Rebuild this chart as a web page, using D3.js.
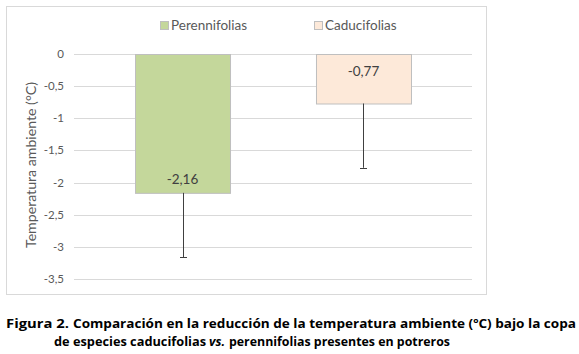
<!DOCTYPE html>
<html>
<head>
<meta charset="utf-8">
<script src="https://cdn.jsdelivr.net/npm/d3@7"></script>
<style>
  body { margin: 0; background: #fff; }
  text { font-family: Lato, "Open Sans", sans-serif; }
  text.caption { font-family: "Open Sans", sans-serif; font-weight: bold; }
</style>
</head>
<body>
<div id="chart"></div>
<script>
// datos
let series = ["Perennifolias", "Caducifolias"];
let values = [-2.16, -0.77];
let errors = [1.0, 1.0];
let labels = ["-2,16", "-0,77"];
let colors = ["#c4d79b", "#fde9d9"];
let yTicks = [0, -0.5, -1, -1.5, -2, -2.5, -3, -3.5];
let yTitle = "Temperatura ambiente (°C)";

let width = 579, height = 354;
let svg = d3.select("#chart").append("svg").attr("width", width).attr("height", height);

// marco del grafico
svg.append("rect").attr("x", 6.5).attr("y", 6.5).attr("width", 480).attr("height", 288)
  .attr("fill", "#fff").attr("stroke", "#d9d9d9").attr("stroke-width", 1);

// escalas
let y = d3.scaleLinear().domain([-3.5, 0]).range([279, 54]);
let x = d3.scaleBand().domain(series).range([74, 472]).paddingInner(0.475).paddingOuter(0.337);

// lineas de division
svg.append("g").selectAll("line").data(yTicks).enter().append("line")
  .attr("x1", 74).attr("x2", 472)
  .attr("y1", d => Math.round(y(d)) + 0.5).attr("y2", d => Math.round(y(d)) + 0.5)
  .attr("stroke", "#d9d9d9").attr("stroke-width", 1);

// etiquetas eje y
let fmt = d => d === 0 ? "0" : String(d).replace(".", ",");
svg.append("g").selectAll("text").data(yTicks).enter().append("text")
  .attr("x", 64).attr("y", d => y(d) + 4)
  .attr("text-anchor", "end").attr("fill", "#595959").attr("font-size", 11.5)
  .text(fmt);

svg.append("text").attr("transform", "translate(36," + 165 + ") rotate(-90)")
  .attr("text-anchor", "middle").attr("fill", "#595959").attr("font-size", 13.5)
  .attr("textLength", 166).attr("lengthAdjust", "spacingAndGlyphs")
  .text(yTitle);

// barras
svg.append("g").selectAll("rect").data(values).enter().append("rect")
  .attr("x", (d, i) => x(series[i]) + 0.5).attr("y", y(0) + 0.5)
  .attr("width", x.bandwidth()).attr("height", d => y(d) - y(0))
  .attr("fill", (d, i) => colors[i]).attr("stroke", "#bfbfbf").attr("stroke-width", 1);

// barras de error (solo negativas)
let eb = svg.append("g").attr("stroke", "#404040").attr("stroke-width", 1);
values.forEach((v, i) => {
  let cx = Math.round(x(series[i]) + x.bandwidth() / 2) + 0.5;
  eb.append("line").attr("x1", cx).attr("x2", cx).attr("y1", y(v)).attr("y2", y(v - errors[i]));
  eb.append("line").attr("x1", cx - 3.5).attr("x2", cx + 3.5)
    .attr("y1", Math.round(y(v - errors[i])) + 0.5).attr("y2", Math.round(y(v - errors[i])) + 0.5);
});

// etiquetas de datos
svg.append("g").selectAll("text").data(values).enter().append("text")
  .attr("x", (d, i) => x(series[i]) + x.bandwidth() / 2)
  .attr("y", d => (y(d) - y(0) > 100 ? y(d) - 9 : y(0) + 22))
  .attr("text-anchor", "middle").attr("fill", "#404040").attr("font-size", 13.5)
  .text((d, i) => labels[i]);

// leyenda
let legX = [160, 314];
let leg = svg.append("g").selectAll("g").data(series).enter().append("g")
  .attr("transform", (d, i) => "translate(" + legX[i] + ",21)");
leg.append("rect").attr("x", 0.5).attr("y", 0.5).attr("width", 8).attr("height", 8)
  .attr("fill", (d, i) => colors[i]).attr("stroke", "#bfbfbf");
leg.append("text").attr("x", 11).attr("y", 9).attr("fill", "#595959").attr("font-size", 13.5).text(d => d);

// pie de figura: [texto, x, ancho, linea, cursiva]
let caption = [
  ["Figura 2.", 6, 63, 328, false],
  ["Comparación en la reducción de la temperatura ambiente (ºC) bajo la copa", 73, 503, 328, false],
  ["de especies caducifolias", 54, 152, 346, false],
  ["vs.", 209, 16, 346, true],
  ["perennifolias presentes en potreros", 229, 221, 346, false]
];
svg.append("g").selectAll("text").data(caption).enter().append("text")
  .attr("class", "caption").attr("font-size", 12.5).attr("fill", "#000")
  .attr("x", d => d[1]).attr("y", d => d[3])
  .attr("textLength", d => d[2]).attr("lengthAdjust", "spacingAndGlyphs")
  .attr("font-style", d => d[4] ? "italic" : "normal")
  .text(d => d[0]);
</script>
</body>
</html>
